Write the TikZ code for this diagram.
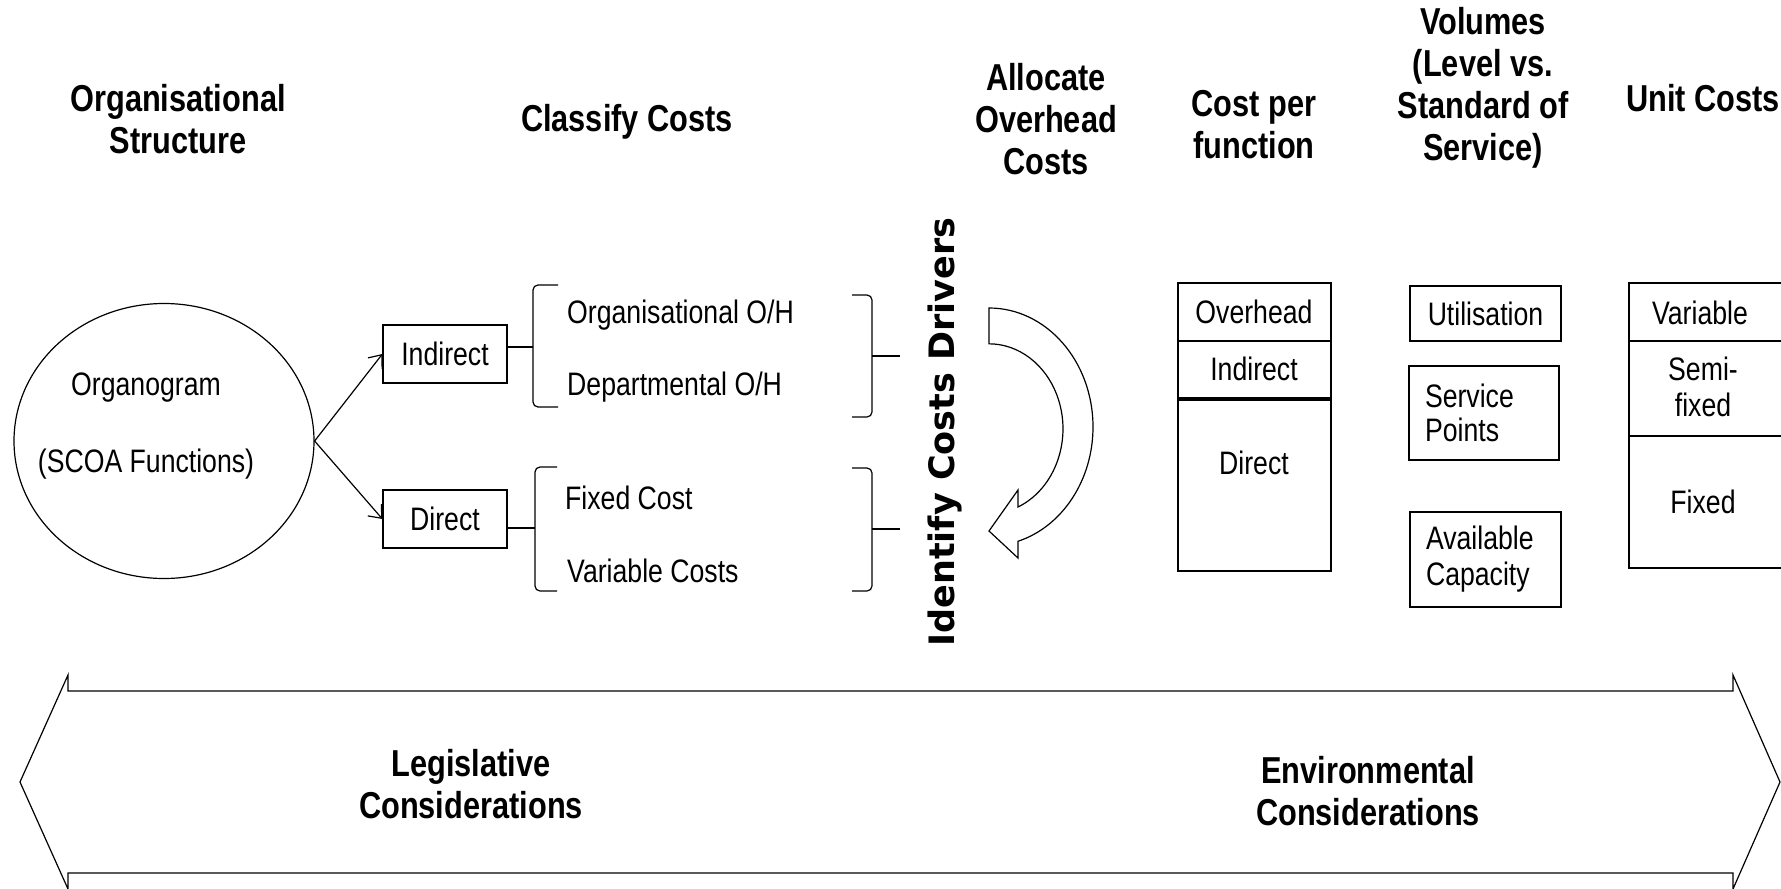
\documentclass[tikz,border=0pt]{standalone}
\usepackage{fontspec}
\setmainfont[FakeStretch=0.82]{Liberation Sans}
\newfontfamily\drvfont{DejaVu Sans}
\usetikzlibrary{shapes.geometric,arrows.meta}

\begin{document}
\begin{tikzpicture}[
	x=1pt, y=-1pt,
	box/.style={ draw, line width=1.2pt, inner sep=0pt, font=\fontsize{32.5}{36}\selectfont },
	hd/.style={ align=center, inner sep=0pt, font=\fontsize{37.5}{42}\selectfont\bfseries },
	txt/.style={ inner sep=0pt, font=\fontsize{32.5}{36}\selectfont },
	brc/.style={ line width=1.2pt, rounded corners=5pt }
]
\useasboundingbox (0,0) rectangle (1781,889);
\clip (0,0) rectangle (1781,889);

% headings
\node[hd] at (178,119) (hOrg) {Organisational\\Structure};
\node[hd] at (627,122) (hCls) {Classify Costs};
\node[hd] at (1046,119) (hAlc) {Allocate\\Overhead\\Costs};
\node[hd] at (1254,125) (hCpf) {Cost per\\function};
\node[hd] at (1483,88) (hVol) {Volumes\\(Level vs.\\Standard of\\Service)};
\node[hd] at (1703,98) (hUnit) {Unit Costs};

% organogram
\node[draw, ellipse, line width=1.2pt, minimum width=300pt, minimum height=275pt, inner sep=0pt] at (164,441) (orgn) {};
\node[txt, align=center] at (146,426) (orgt) {Organogram\\[41pt](SCOA Functions)};
\node[box, minimum width=124pt, minimum height=58pt] at (445,354) (ind) {Indirect};
\node[box, minimum width=124pt, minimum height=58pt] at (445,519) (dir) {Direct};
\foreach \p in {ind,dir} \draw[line width=1.2pt, -{Straight Barb[length=11pt,width=18pt]}] (orgn.east) to (\p.west);

% braces
\coordinate (b1) at (533,347);
\coordinate (b2) at (535,528);
\draw[brc] (558,285) -- (533,285) -- (b1) -- (533,407) -- (558,407);
\draw[brc] (557,467) -- (535,467) -- (b2) -- (535,591) -- (557,591);
\draw[line width=1.2pt] (b1 -| ind.east) -- (b1);
\draw[line width=1.2pt] (b2 -| dir.east) -- (b2);
\node[txt, anchor=west] at (567,315) (oOH) {Organisational O/H};
\node[txt, anchor=west] at (567,387) (dOH) {Departmental O/H};
\node[txt, anchor=west] at (565,498) (fxc) {Fixed Cost};
\node[txt, anchor=west] at (567,571) (vrc) {Variable Costs};
\coordinate (b3) at (872,356);
\coordinate (b4) at (872,529);
\draw[brc] (852,295) -- (872,295) -- (b3) -- (872,417) -- (852,417);
\draw[brc] (852,468) -- (872,468) -- (b4) -- (872,591) -- (852,591);
\draw[line width=1.2pt] (b3) -- ++(28,0);
\draw[line width=1.2pt] (b4) -- ++(28,0);

% drivers
\node[rotate=90, inner sep=0pt, font=\drvfont\fontsize{35}{40}\selectfont\bfseries] at (945,432) (icd) {Identify Costs Drivers};
\draw[line width=1.2pt, fill=white] (989,308) arc[start angle=-90, end angle=73.8, x radius=104, y radius=119]
	-- (1018,558) -- (989,531) -- (1018,490) -- (1018,507)
	arc[start angle=66.9, end angle=-90, x radius=74, y radius=85] -- cycle;

% cost per function
\node[box, minimum width=153pt, minimum height=288pt] at (1254.5,427) (cpf) {};
\draw[line width=1.2pt] (cpf.west |- 0,341) -- (cpf.east |- 0,341);
\draw[line width=3.5pt] (cpf.west |- 0,399) -- (cpf.east |- 0,399);
\node[txt] at (1254,312) (cOvh) {Overhead};
\node[txt] at (1254,369) (cInd) {Indirect};
\node[txt] at (1254,463) (cDir) {Direct};

% volumes
\node[box, minimum width=151pt, minimum height=55pt] at (1485.5,313.5) (vUtl) {Utilisation};
\node[box, text width=118pt, align=left, inner xsep=16pt, minimum height=94pt] at (1484,413) (vSvc) {Service\\[-2pt]Points\\[-2pt]};
\node[box, text width=119pt, align=left, inner xsep=16pt, minimum height=95pt] at (1485.5,559.5) (vCap) {Available\\Capacity};

% unit costs
\node[box, minimum width=161pt, minimum height=285pt] at (1709.5,425.5) (ucs) {};
\draw[line width=1.2pt] (ucs.west |- 0,341) -- (ucs.east |- 0,341);
\draw[line width=1.2pt] (ucs.west |- 0,436) -- (ucs.east |- 0,436);
\node[txt] at (1700,313) (uVar) {Variable};
\node[txt, align=center] at (1703,386.5) (uSemi) {Semi-\\fixed};
\node[txt] at (1703,502) (uFix) {Fixed};

% considerations
\draw[line width=1.2pt] (20,782) -- (68,675) -- (68,691) -- (1733,691) -- (1733,675) -- (1780,782)
	-- (1733,889) -- (1733,873) -- (68,873) -- (68,889) -- cycle;
\node[hd] at (471,784) (lgl) {Legislative\\Considerations};
\node[hd] at (1368,791.5) (env) {Environmental\\Considerations};

\end{tikzpicture}
\end{document}
